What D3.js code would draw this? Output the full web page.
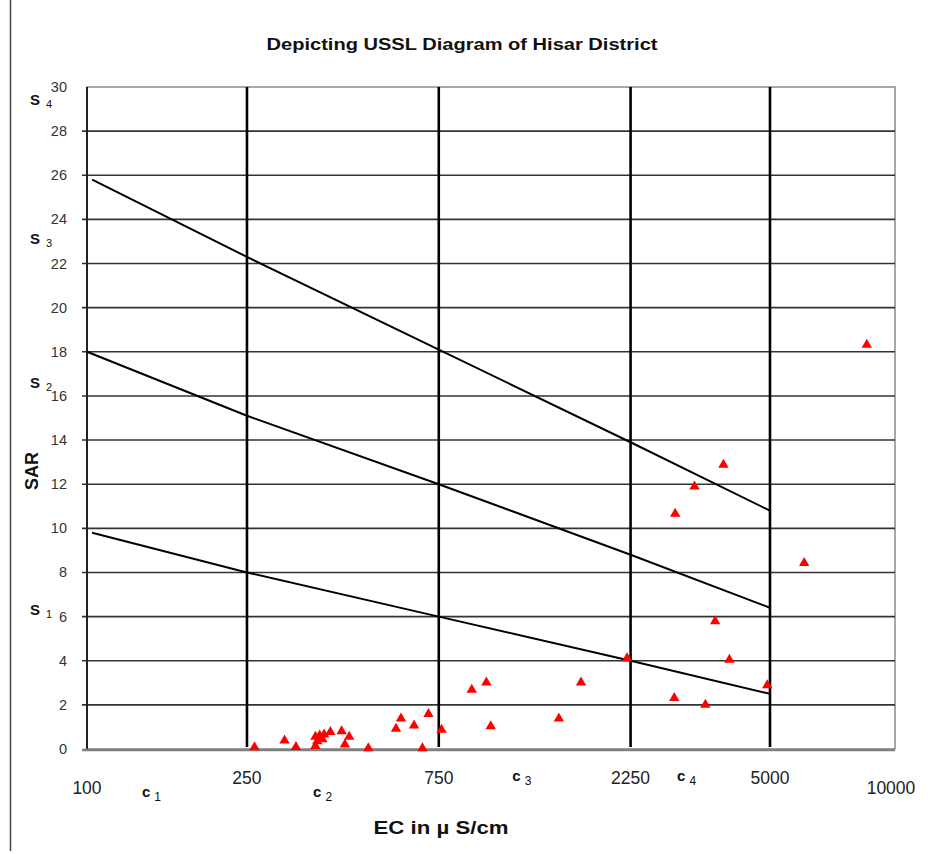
<!DOCTYPE html>
<html>
<head>
<meta charset="utf-8">
<script src="https://cdn.jsdelivr.net/npm/d3@7"></script>
<style>
  html, body { margin: 0; padding: 0; background: #fff; }
  svg { display: block; font-family: "Liberation Sans", Arial, sans-serif; }
</style>
</head>
<body>
<svg id="chart" width="938" height="854"></svg>
<script>
// EC (µS/cm) tick labels and salinity class breaks
const ecTicks = [100, 250, 750, 2250, 5000, 10000];
const ecClassBreaks = [250, 750, 2250, 5000];
const sarTicks = [0, 2, 4, 6, 8, 10, 12, 14, 16, 18, 20, 22, 24, 26, 28, 30];

// Sodium hazard boundaries (S1/S2, S2/S3, S3/S4)
const boundaryS1S2EC = [103, 250, 750, 2250, 5000];
const boundaryS1S2SAR = [9.8, 8.0, 6.0, 4.0, 2.5];
const boundaryS2S3EC = [100, 250, 750, 2250, 5000];
const boundaryS2S3SAR = [18.0, 15.1, 12.0, 8.8, 6.4];
const boundaryS3S4EC = [103, 250, 750, 2250, 5000];
const boundaryS3S4SAR = [25.8, 22.3, 18.1, 13.9, 10.8];

// Groundwater samples, Hisar district
const sampleEC = [261, 310, 331, 370, 379, 389, 403, 370, 374, 385, 430, 449, 438, 501,
  604, 587, 651, 707, 762, 683, 906, 985, 1010, 1492, 1694, 2205,
  3830, 3245, 2905, 3652, 3963, 4922, 2890, 3454, 8706, 6081];
const sampleSAR = [0.14, 0.45, 0.15, 0.62, 0.68, 0.72, 0.83, 0.2, 0.42, 0.5, 0.87, 0.62, 0.27, 0.1,
  1.44, 0.98, 1.13, 1.65, 0.94, 0.1, 2.75, 3.08, 1.09, 1.44, 3.08, 4.18,
  12.94, 11.96, 10.72, 5.85, 4.11, 2.95, 2.37, 2.07, 18.38, 8.49];

// Class labels
const sClasses = [{ s: "S", sub: "4", sar: 29.4 }, { s: "S", sub: "3", sar: 23.1 },
  { s: "S", sub: "2", sar: 16.6 }, { s: "S", sub: "1", sar: 6.3 }];
const cClasses = [{ c: "c", sub: "1", ec: 137, dy: 797 }, { c: "c", sub: "2", ec: 365, dy: 797 },
  { c: "c", sub: "3", ec: 1143, dy: 781 }, { c: "c", sub: "4", ec: 2936, dy: 781 }];

const svg = d3.select("#chart");
const plotLeft = 87, plotRight = 895, plotTop = 87, plotBottom = 749;

const x = d3.scaleLog().domain([100, 10000]).range([plotLeft, 891]);
const y = d3.scaleLinear().domain([0, 30]).range([plotBottom, plotTop]);

// page border on the left
svg.append("line").attr("x1", 10.5).attr("x2", 10.5).attr("y1", 0).attr("y2", 851)
  .attr("stroke", "#444").attr("stroke-width", 1.5);

// title
svg.append("text").attr("x", 462).attr("y", 50).attr("text-anchor", "middle")
  .attr("font-size", 16).attr("font-weight", "bold").attr("fill", "#111")
  .attr("textLength", 391).attr("lengthAdjust", "spacingAndGlyphs")
  .text("Depicting USSL Diagram of Hisar District");

// plot frame (top, right in grey)
svg.append("rect").attr("x", plotLeft).attr("y", plotTop)
  .attr("width", plotRight - plotLeft).attr("height", plotBottom - plotTop)
  .attr("fill", "none").attr("stroke", "#8a8a8a").attr("stroke-width", 1.5);

// horizontal gridlines with left tick stubs
svg.append("g").selectAll("line").data(sarTicks.filter(d => d > 0 && d < 30)).join("line")
  .attr("x1", plotLeft - 5).attr("x2", plotRight).attr("y1", d => y(d)).attr("y2", d => y(d))
  .attr("stroke", "#333").attr("stroke-width", 1.6);

// y tick labels
svg.append("g").selectAll("text").data(sarTicks).join("text")
  .attr("x", 67).attr("y", d => y(d) + 5).attr("text-anchor", "end")
  .attr("font-size", 14.5).attr("fill", "#333").text(d => d);

// salinity class breaks
svg.append("g").selectAll("line").data(ecClassBreaks).join("line")
  .attr("x1", d => x(d)).attr("x2", d => x(d)).attr("y1", plotTop).attr("y2", plotBottom - 2)
  .attr("stroke", "#000").attr("stroke-width", 2.6);

// left axis line and baseline
svg.append("line").attr("x1", plotLeft).attr("x2", plotLeft).attr("y1", plotTop).attr("y2", plotBottom)
  .attr("stroke", "#222").attr("stroke-width", 2);
svg.append("line").attr("x1", plotLeft - 5).attr("x2", plotRight)
  .attr("y1", plotBottom + 1).attr("y2", plotBottom + 1)
  .attr("stroke", "#808080").attr("stroke-width", 2.4);

// sodium hazard boundaries
const line = d3.line().x(d => x(d[0])).y(d => y(d[1]));
[[boundaryS1S2EC, boundaryS1S2SAR], [boundaryS2S3EC, boundaryS2S3SAR], [boundaryS3S4EC, boundaryS3S4SAR]]
  .forEach(([ec, sar]) => {
    svg.append("path").attr("d", line(ec.map((e, i) => [e, sar[i]])))
      .attr("fill", "none").attr("stroke", "#000").attr("stroke-width", 2);
  });

// samples as red triangles
const tri = "M0,-4.6L5.2,4.4L-5.2,4.4Z";
svg.append("g").selectAll("path").data(sampleEC.map((e, i) => [e, sampleSAR[i]])).join("path")
  .attr("d", tri).attr("transform", d => `translate(${x(d[0])},${y(d[1])})`)
  .attr("fill", "#ff0000");

// x tick labels (end labels sit lower)
svg.append("g").selectAll("text").data(ecTicks).join("text")
  .attr("x", d => x(d)).attr("y", (d, i) => (i === 0 || i === ecTicks.length - 1) ? 794 : 784)
  .attr("text-anchor", "middle").attr("font-size", 17.5).attr("fill", "#222").text(d => d);

// salinity class labels c1..c4
const cg = svg.append("g").selectAll("text").data(cClasses).join("text")
  .attr("x", d => x(d.ec)).attr("y", d => d.dy).attr("fill", "#111");
cg.append("tspan").attr("font-size", 15).attr("font-weight", "bold").text(d => d.c);
cg.append("tspan").attr("font-size", 12).attr("dx", 4).attr("dy", 4).text(d => d.sub);

// sodium class labels S1..S4
const sg = svg.append("g").selectAll("text").data(sClasses).join("text")
  .attr("x", 30).attr("y", d => y(d.sar) + 5).attr("fill", "#111");
sg.append("tspan").attr("font-size", 15).attr("font-weight", "bold").text(d => d.s);
sg.append("tspan").attr("font-size", 11).attr("dx", 6).attr("dy", 3).text(d => d.sub);

// axis titles
svg.append("text").attr("transform", `translate(38,${y(12.6)}) rotate(-90)`)
  .attr("text-anchor", "middle").attr("font-size", 18).attr("font-weight", "bold").attr("fill", "#111")
  .text("SAR");
svg.append("text").attr("x", 441).attr("y", 834).attr("text-anchor", "middle")
  .attr("font-size", 19).attr("font-weight", "bold").attr("fill", "#111")
  .attr("textLength", 135).attr("lengthAdjust", "spacingAndGlyphs")
  .text("EC in  µ S/cm");
</script>
</body>
</html>
